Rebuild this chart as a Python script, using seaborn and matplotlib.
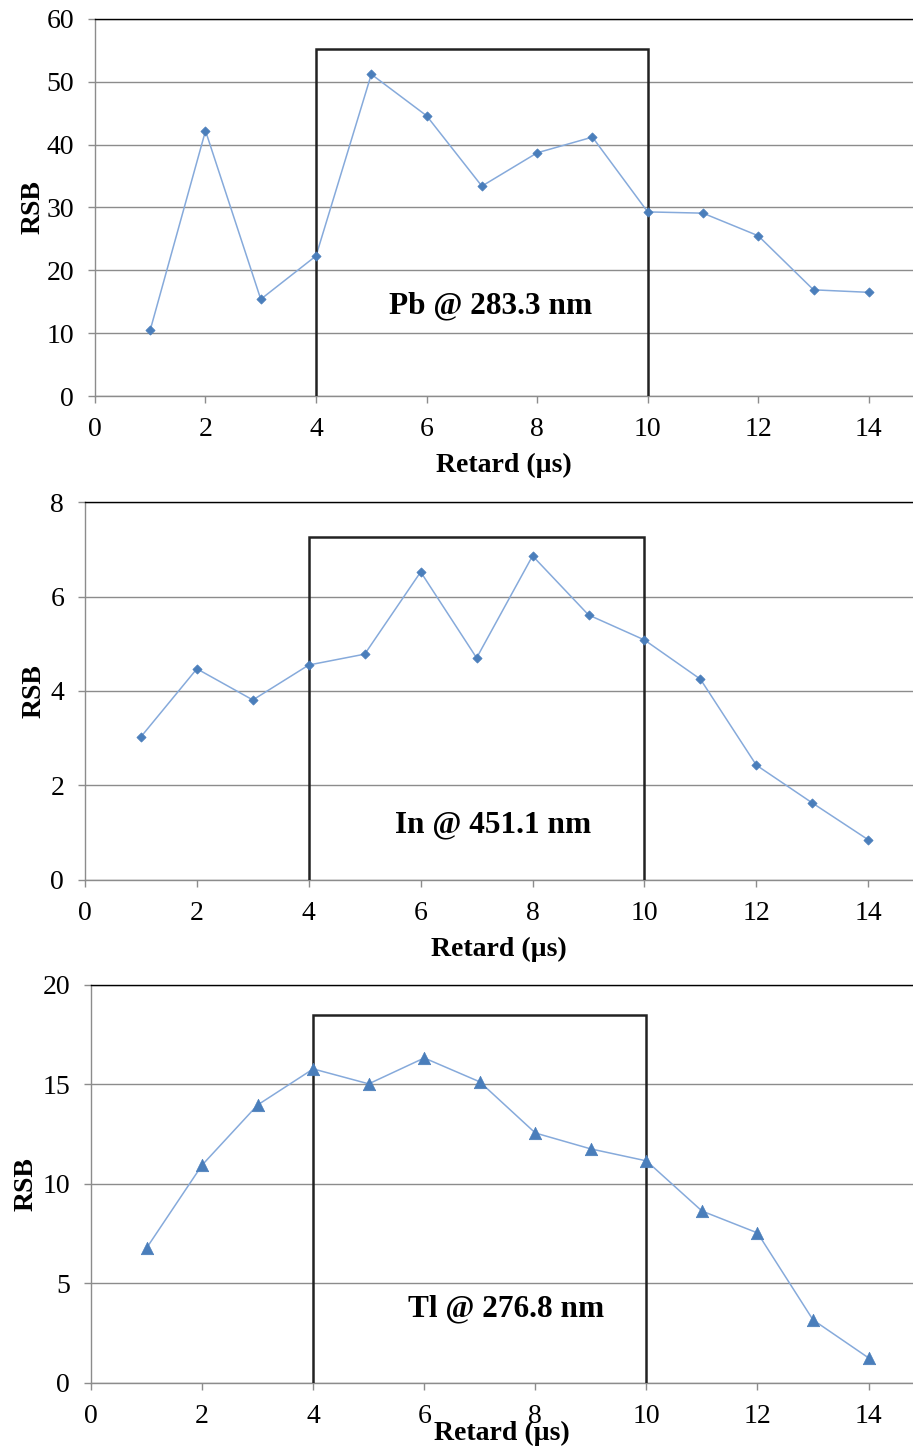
import matplotlib
matplotlib.use("Agg")
import matplotlib.pyplot as plt
import seaborn as sns

sns.set_style("white")
plt.rcParams['font.family'] = ['Liberation Serif', 'DejaVu Serif']
plt.rcParams['text.color'] = 'black'
plt.rcParams['axes.labelcolor'] = 'black'
plt.rcParams['xtick.color'] = 'black'
plt.rcParams['ytick.color'] = 'black'

# Data
retard = [1, 2, 3, 4, 5, 6, 7, 8, 9, 10, 11, 12, 13, 14]
rsb_pb = [10.5, 42.2, 15.4, 22.3, 51.2, 44.6, 33.4, 38.7, 41.2, 29.3, 29.1, 25.5, 16.9, 16.5]
rsb_in = [3.03, 4.47, 3.81, 4.55, 4.78, 6.52, 4.70, 6.86, 5.61, 5.08, 4.25, 2.43, 1.63, 0.85]
rsb_tl = [6.78, 10.95, 13.97, 15.78, 15.03, 16.33, 15.13, 12.56, 11.76, 11.16, 8.64, 7.54, 3.17, 1.26]

labels = ["Pb @ 283.3 nm", "In @ 451.1 nm", "Tl @ 276.8 nm"]
ymax = [60, 8, 20]
ystep = [10, 2, 5]
box_top = [55.2, 7.26, 18.5]
label_xy = [(7.16, 14.3), (7.3, 1.16), (7.47, 3.72)]
markers = ["D", "D", "^"]
msize = [22, 22, 80]

series = [rsb_pb, rsb_in, rsb_tl]

fig = plt.figure(figsize=(9.13, 14.48), dpi=100)
rects = [
    [0.104, 0.7265, 0.896, 0.2604],
    [0.0931, 0.3923, 0.9069, 0.2610],
    [0.0997, 0.0449, 0.9003, 0.2749],
]
xlabel_pad = [8, 8, -6]
ylabel_pad = [1, 3, 3]

grid_c = "#8c8c8c"
line_c = "#86aadb"
mark_c = "#4a7ebb"

for i, rect in enumerate(rects):
    ax = fig.add_axes(rect)
    sns.lineplot(x=retard, y=series[i], ax=ax, color=line_c, linewidth=1.1)
    sns.scatterplot(x=retard, y=series[i], ax=ax, color=mark_c, marker=markers[i],
                    s=msize[i], edgecolor=mark_c, linewidth=0.5, zorder=4)
    # window box
    top = box_top[i]
    ax.plot([4, 4, 10, 10], [0, top, top, 0], color="#222222", linewidth=1.8,
            zorder=3, solid_joinstyle="miter")
    ax.text(label_xy[i][0], label_xy[i][1], labels[i], fontsize=22.5, fontweight="bold",
            ha="center", va="center")

    ax.set_xlim(0, 14.8)
    ax.set_ylim(0, ymax[i])
    ax.set_xticks(range(0, 15, 2))
    ax.set_yticks(range(0, ymax[i] + 1, ystep[i]))
    ax.yaxis.grid(True, color=grid_c, linewidth=1.0)
    ax.set_axisbelow(True)
    for s in ["left", "bottom"]:
        ax.spines[s].set_color(grid_c)
        ax.spines[s].set_linewidth(1.0)
    ax.spines["top"].set_color("black")
    ax.spines["top"].set_linewidth(1.0)
    ax.spines["right"].set_visible(False)
    ax.tick_params(axis="both", which="major", labelsize=20, length=5, width=1,
                   color=grid_c, labelcolor="black", direction="out",
                   bottom=True, left=True)
    ax.tick_params(axis="x", pad=10)
    ax.tick_params(axis="y", pad=10)
    ax.set_xlabel("Retard (µs)", fontsize=20, fontweight="bold", labelpad=xlabel_pad[i])
    ax.set_ylabel("RSB", fontsize=20, fontweight="bold", labelpad=ylabel_pad[i])

fig.savefig("out.png", dpi=100)
